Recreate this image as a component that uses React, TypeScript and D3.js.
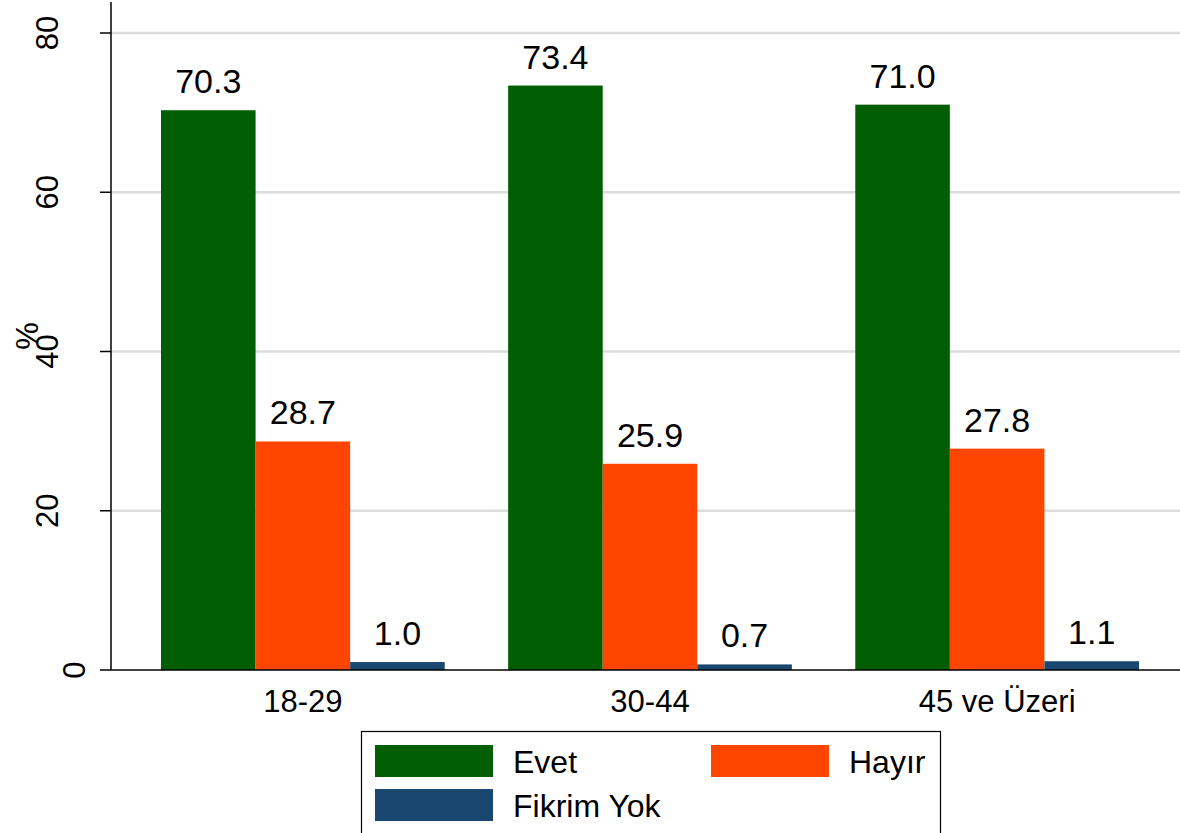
import React from "react";
import * as d3 from "d3";

const categories = ["18-29", "30-44", "45 ve Üzeri"];
const seriesNames = ["Evet", "Hayır", "Fikrim Yok"];
const evet = [70.3, 73.4, 71.0];
const hayir = [28.7, 25.9, 27.8];
const fikrimYok = [1.0, 0.7, 1.1];
const yTicks = [0, 20, 40, 60, 80];
const colors = ["#025e02", "#ff4500", "#1a476f"];

const W = 1180;
const H = 833;
const FONT = "'Liberation Sans', Arial, Helvetica, sans-serif";

export default function App() {
  const series = [evet, hayir, fikrimYok];
  const axisX = 111;
  const plotRight = 1180;
  const y = d3.scaleLinear().domain([0, 80]).range([670, 33]);
  const x0 = d3.scaleBand<string>().domain(categories).range([161, 1139]).paddingInner(0.1827).paddingOuter(0);
  const x1 = d3.scaleBand<string>().domain(seriesNames).range([0, x0.bandwidth()]).padding(0);

  const legendItems = [
    { name: seriesNames[0], color: colors[0], x: 375, y: 745 },
    { name: seriesNames[1], color: colors[1], x: 711, y: 745 },
    { name: seriesNames[2], color: colors[2], x: 375, y: 789 },
  ];

  return (
    <svg width={W} height={H} style={{ position: "absolute", left: 0, top: 0, background: "#fff" }} fontFamily={FONT}>
      <rect x={0} y={0} width={W} height={H} fill="#fff" />
      {yTicks.filter((t) => t !== 0).map((t) => (
        <line key={"g" + t} x1={axisX} x2={plotRight} y1={y(t)} y2={y(t)} stroke="#dcdcdc" strokeWidth={2.5} />
      ))}
      {categories.map((c, ci) => (
        <g key={c} transform={`translate(${x0(c)},0)`}>
          {seriesNames.map((s, si) => {
            const v = series[si][ci];
            return (
              <g key={s}>
                <rect x={x1(s)} y={y(v)} width={x1.bandwidth()} height={y(0) - y(v)} fill={colors[si]} />
                <text
                  x={(x1(s) as number) + x1.bandwidth() / 2}
                  y={y(v) - 17}
                  textAnchor="middle"
                  fontSize={34}
                  fill="#000"
                >
                  {v.toFixed(1)}
                </text>
              </g>
            );
          })}
        </g>
      ))}
      <line x1={axisX} x2={axisX} y1={2} y2={y(0)} stroke="#000" strokeWidth={1.5} />
      <line x1={axisX} x2={plotRight} y1={y(0)} y2={y(0)} stroke="#000" strokeWidth={1.5} />
      {yTicks.map((t) => {
        const lbl = String(t);
        const bx = lbl.length === 1 ? 85 : 58;
        return (
          <g key={"t" + t}>
            <line x1={100} x2={axisX} y1={y(t)} y2={y(t)} stroke="#000" strokeWidth={1.5} />
            <text
              transform={`translate(${bx},${y(t)}) rotate(-90)`}
              textAnchor="middle"
              fontSize={31}
              fill="#000"
            >
              {lbl}
            </text>
          </g>
        );
      })}
      <text transform={`translate(38,336) rotate(-90)`} textAnchor="middle" fontSize={31} fill="#000">
        %
      </text>
      {categories.map((c) => (
        <text key={"xl" + c} x={(x0(c) as number) + x0.bandwidth() / 2} y={712} textAnchor="middle" fontSize={31} fill="#000">
          {c}
        </text>
      ))}
      <rect x={361.5} y={731.5} width={579} height={110} fill="#fff" stroke="#000" strokeWidth={1.2} />
      {legendItems.map((it) => (
        <g key={it.name}>
          <rect x={it.x} y={it.y} width={118} height={32} fill={it.color} />
          <text x={it.x + 138} y={it.y + 28} fontSize={32} fill="#000">
            {it.name}
          </text>
        </g>
      ))}
    </svg>
  );
}
